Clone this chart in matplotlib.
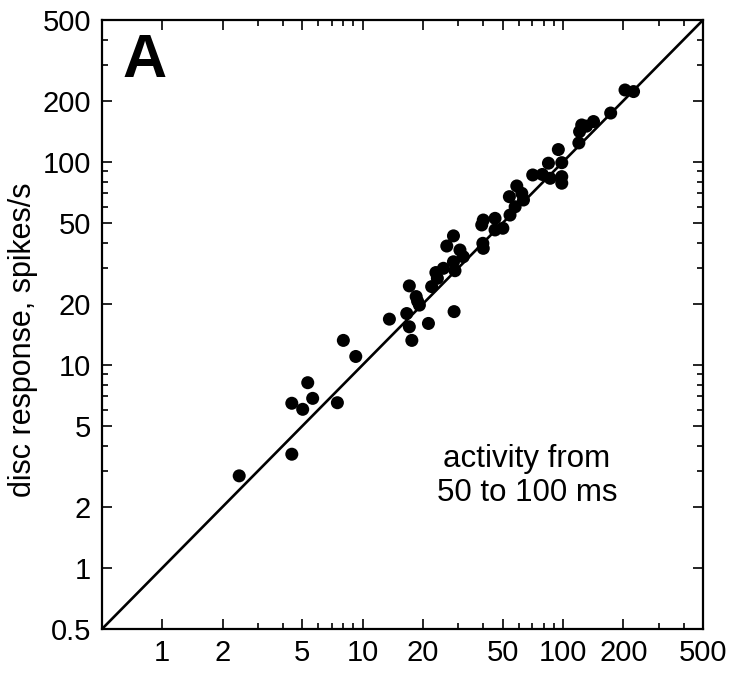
import matplotlib
matplotlib.use("Agg")
import matplotlib.pyplot as plt
from matplotlib.ticker import FixedLocator, FixedFormatter, NullFormatter

plt.rcParams['font.family'] = ['Liberation Sans', 'DejaVu Sans']

# data: activity (x) vs disc response (y), spikes/s
activity = [2.42, 4.43, 4.43, 5.02, 5.32, 5.63, 7.48, 8.01, 9.24, 13.6,
            16.6, 17.1, 17.6, 17.1, 18.5, 18.8, 19.2, 21.3, 22.1, 23.2,
            23.6, 25.3, 28.4, 28.9, 28.6, 26.3, 28.4, 30.6, 31.8, 39.8,
            40.0, 40.0, 39.3, 45.8, 45.8, 50.1, 54.4, 57.7, 54.0, 62.3,
            63.5, 58.8, 70.6, 78.9, 84.6, 86.3, 94.8, 98.6, 98.6, 98.6,
            120, 121, 124, 131, 142, 173, 204, 225]
disc = [2.84, 3.63, 6.47, 6.04, 8.17, 6.84, 6.51, 13.2, 11.0, 16.8,
        17.9, 15.4, 13.2, 24.5, 21.7, 20.6, 19.7, 16.0, 24.3, 28.5,
        26.7, 29.9, 32.2, 29.1, 18.3, 38.5, 43.2, 36.8, 34.1, 39.7,
        37.5, 51.7, 48.9, 52.7, 46.2, 47.1, 54.7, 60.1, 67.4, 70.0,
        64.9, 76.1, 86.2, 86.7, 98.5, 83.0, 115, 99.1, 84.6, 78.5,
        124, 141, 152, 150, 158, 174, 226, 222]

x_major = [1, 2, 5, 10, 20, 50, 100, 200, 500]
x_labels = ['1', '2', '5', '10', '20', '50', '100', '200', '500']
y_major = [0.5, 1, 2, 5, 10, 20, 50, 100, 200, 500]
y_labels = ['0.5', '1', '2', '5', '10', '20', '50', '100', '200', '500']
minor = [3, 4, 6, 7, 8, 9, 30, 40, 60, 70, 80, 90, 300, 400]
lims = [0.5, 500]

fig = plt.figure(figsize=(7.37, 6.73), dpi=100)
ax = fig.add_axes([0.1384, 0.0654, 0.8155, 0.9049])

ax.plot(lims, lims, color='black', lw=1.9, zorder=2)
ax.scatter(activity, disc, s=88, color='black', edgecolors='none', zorder=3)

ax.set_xscale('log')
ax.set_yscale('log')
ax.set_xlim(lims)
ax.set_ylim(lims)

ax.xaxis.set_major_locator(FixedLocator(x_major))
ax.xaxis.set_major_formatter(FixedFormatter(x_labels))
ax.yaxis.set_major_locator(FixedLocator(y_major))
ax.yaxis.set_major_formatter(FixedFormatter(y_labels))
ax.xaxis.set_minor_locator(FixedLocator(minor))
ax.yaxis.set_minor_locator(FixedLocator(minor))
ax.xaxis.set_minor_formatter(NullFormatter())
ax.yaxis.set_minor_formatter(NullFormatter())

ax.tick_params(which='both', direction='in', top=True, right=True,
               labelsize=21, width=1.2, colors='black')
ax.tick_params(which='major', length=7)
ax.tick_params(which='minor', length=4)
ax.tick_params(axis='x', which='major', pad=7)
ax.tick_params(axis='y', which='major', pad=8)
for sp in ax.spines.values():
    sp.set_linewidth(1.6)

ax.set_ylabel('disc response, spikes/s', fontsize=22)
ax.yaxis.set_label_coords(-0.106, 0.475)

ax.text(0.034, 0.906, 'A', transform=ax.transAxes, fontsize=44,
        fontweight='bold', ha='left', va='baseline')
ax.text(66, 2.84, 'activity from\n50 to 100 ms', fontsize=22.5,
        ha='center', va='center', linespacing=1.2)

fig.savefig('out.png', dpi=100)
